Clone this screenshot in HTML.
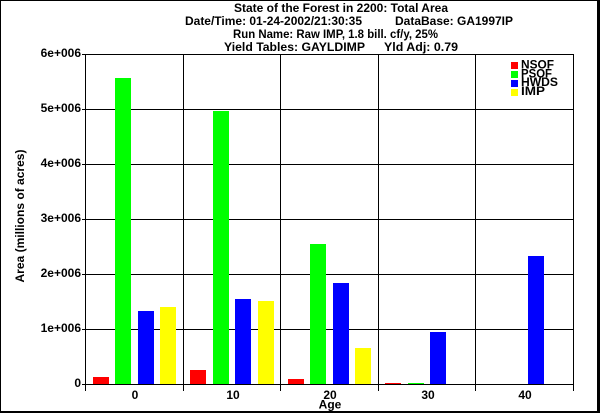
<!DOCTYPE html>
<html><head><meta charset="utf-8"><style>
html,body{margin:0;padding:0;background:#fff;}
svg{display:block;}
text{font-family:"Liberation Sans",Arial,sans-serif;font-weight:bold;fill:#000;}
</style></head><body>
<svg width="600" height="413" viewBox="0 0 600 413" xmlns="http://www.w3.org/2000/svg">
<rect x="0" y="0" width="600" height="413" fill="#fff"/>
<!-- outer border -->
<rect x="0" y="0" width="600" height="1" fill="#000"/>
<rect x="0" y="0" width="1" height="413" fill="#000"/>
<rect x="597" y="0" width="3" height="413" fill="#000"/>
<rect x="0" y="411" width="600" height="2" fill="#000"/>

<!-- title -->
<text x="234" y="12" font-size="12" textLength="214" lengthAdjust="spacingAndGlyphs">State of the Forest in 2200: Total Area</text>
<text x="185" y="25" font-size="12" textLength="177" lengthAdjust="spacingAndGlyphs">Date/Time: 01-24-2002/21:30:35</text>
<text x="395" y="25" font-size="12" textLength="118" lengthAdjust="spacingAndGlyphs">DataBase: GA1997IP</text>
<text x="233" y="38" font-size="12" textLength="205" lengthAdjust="spacingAndGlyphs">Run Name: Raw IMP, 1.8 bill. cf/y, 25%</text>
<text x="224" y="51" font-size="12" textLength="141" lengthAdjust="spacingAndGlyphs">Yield Tables: GAYLDIMP</text>
<text x="384" y="51" font-size="12" textLength="74" lengthAdjust="spacingAndGlyphs">Yld Adj: 0.79</text>

<!-- grid horizontal -->
<g fill="#000">
<rect x="82" y="54" width="492" height="1"/>
<rect x="82" y="109" width="492" height="1"/>
<rect x="82" y="164" width="492" height="1"/>
<rect x="82" y="219" width="492" height="1"/>
<rect x="82" y="274" width="492" height="1"/>
<rect x="82" y="329" width="492" height="1"/>
<rect x="82" y="384" width="492" height="1"/>
<!-- grid vertical -->
<rect x="85" y="54" width="1" height="337"/>
<rect x="183" y="54" width="1" height="337"/>
<rect x="280" y="54" width="1" height="337"/>
<rect x="378" y="54" width="1" height="337"/>
<rect x="475" y="54" width="1" height="337"/>
<rect x="573" y="54" width="1" height="337"/>
</g>

<!-- bars -->
<g>
<rect x="93" y="377" width="16" height="7" fill="#ff0000"/>
<rect x="115" y="78" width="16" height="306" fill="#00ff00"/>
<rect x="138" y="311" width="16" height="73" fill="#0000ff"/>
<rect x="160" y="307" width="16" height="77" fill="#ffff00"/>

<rect x="190" y="370" width="16" height="14" fill="#ff0000"/>
<rect x="213" y="111" width="16" height="273" fill="#00ff00"/>
<rect x="235" y="299" width="16" height="85" fill="#0000ff"/>
<rect x="258" y="301" width="16" height="83" fill="#ffff00"/>

<rect x="288" y="379" width="16" height="5" fill="#ff0000"/>
<rect x="310" y="244" width="16" height="140" fill="#00ff00"/>
<rect x="333" y="283" width="16" height="101" fill="#0000ff"/>
<rect x="355" y="348" width="16" height="36" fill="#ffff00"/>

<rect x="385" y="383" width="16" height="1" fill="#ff0000"/>
<rect x="408" y="383" width="16" height="1" fill="#00ff00"/>
<rect x="430" y="332" width="16" height="52" fill="#0000ff"/>

<rect x="528" y="256" width="16" height="128" fill="#0000ff"/>
</g>

<!-- y tick labels -->
<g font-size="12" text-anchor="end">
<text x="81" y="57">6e+006</text>
<text x="81" y="112">5e+006</text>
<text x="81" y="167">4e+006</text>
<text x="81" y="222">3e+006</text>
<text x="81" y="277">2e+006</text>
<text x="81" y="332">1e+006</text>
<text x="81" y="387">0</text>
</g>

<!-- x tick labels -->
<g font-size="12" text-anchor="middle">
<text x="135" y="399">0</text>
<text x="233" y="399">10</text>
<text x="330" y="399">20</text>
<text x="428" y="399">30</text>
<text x="525" y="399">40</text>
<text x="330" y="408.5">Age</text>
</g>

<!-- y axis title -->
<text transform="translate(24,216) rotate(-90)" font-size="12" text-anchor="middle" textLength="133" lengthAdjust="spacingAndGlyphs">Area (millions of acres)</text>

<!-- legend -->
<rect x="511" y="62" width="7" height="7" fill="#ff0000"/>
<rect x="511" y="71" width="7" height="7" fill="#00ff00"/>
<rect x="511" y="80" width="7" height="7" fill="#0000ff"/>
<rect x="511" y="89" width="7" height="7" fill="#ffff00"/>
<g font-size="12">
<text x="521" y="68.5" textLength="33" lengthAdjust="spacingAndGlyphs">NSOF</text>
<text x="521" y="77.3" textLength="31" lengthAdjust="spacingAndGlyphs">PSOF</text>
<text x="521" y="86.1" textLength="37" lengthAdjust="spacingAndGlyphs">HWDS</text>
<text x="521" y="94.9" textLength="24" lengthAdjust="spacingAndGlyphs">IMP</text>
</g>
</svg>
</body></html>
